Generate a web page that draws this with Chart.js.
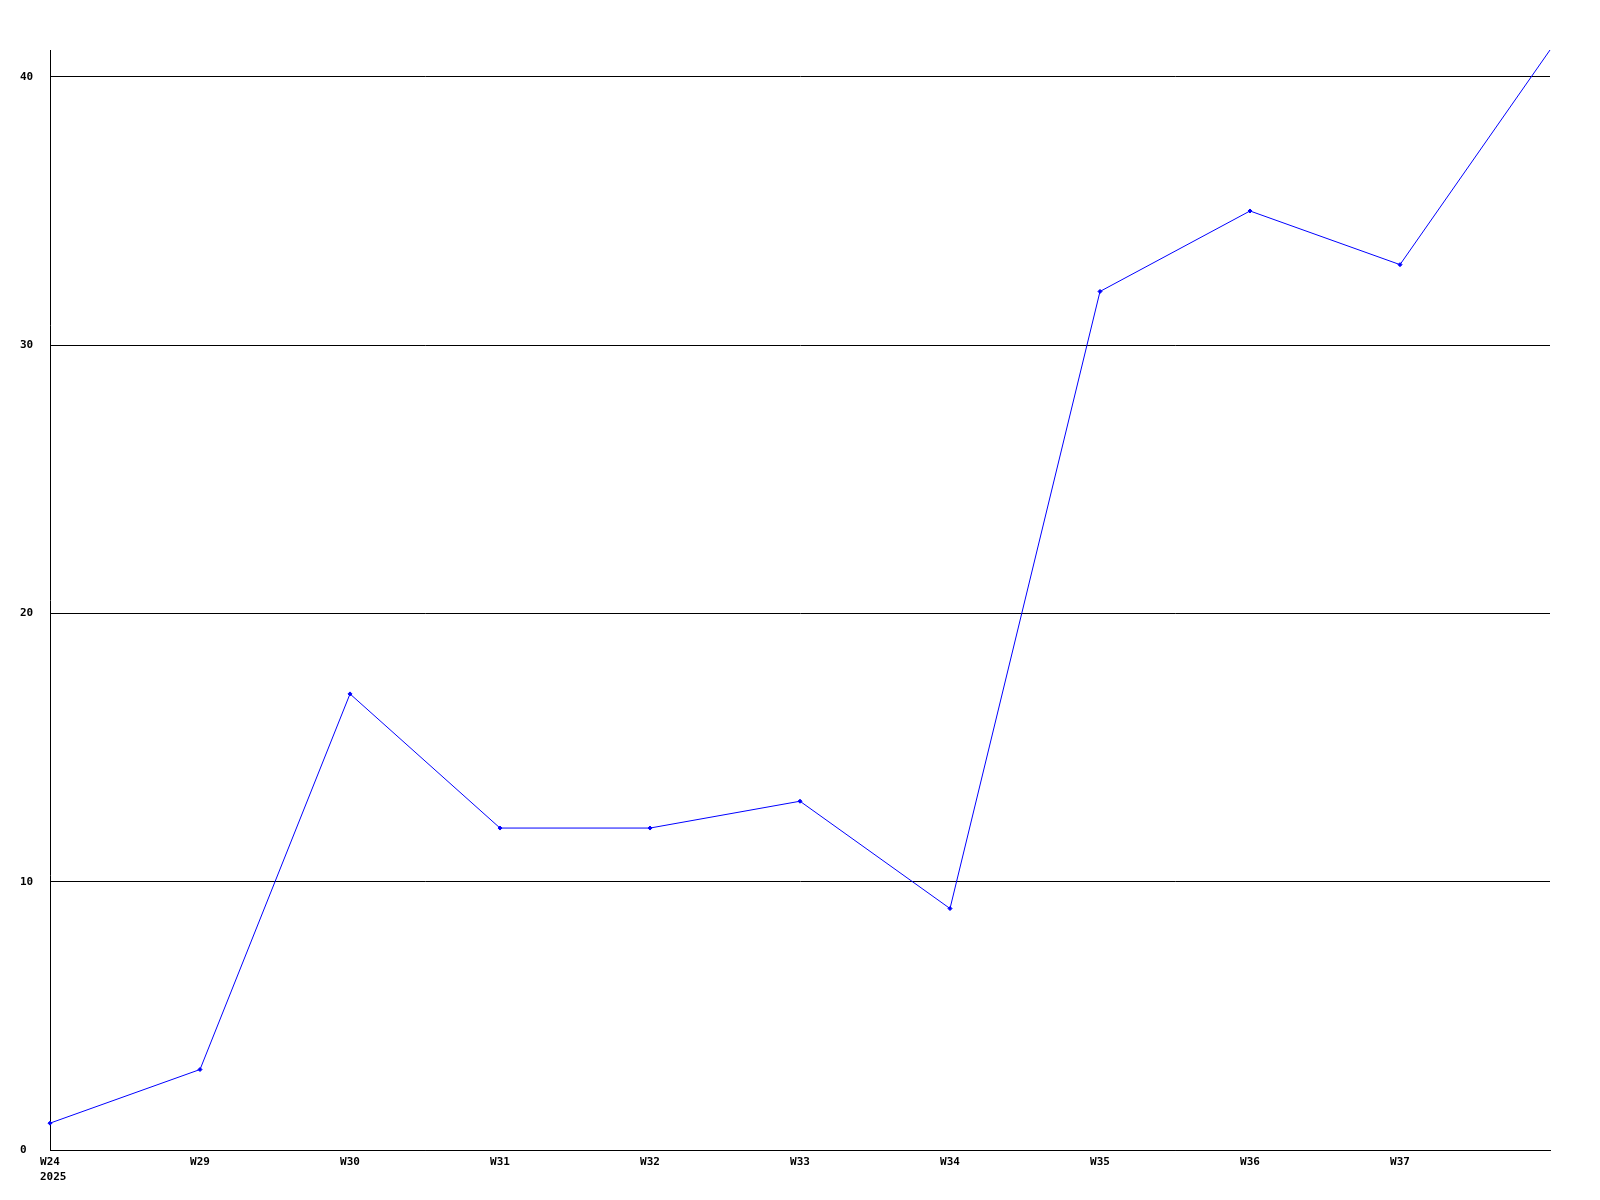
<!DOCTYPE html>
<html>
<head>
<meta charset="utf-8">
<script src="https://cdn.jsdelivr.net/npm/chart.js@4/dist/chart.umd.min.js"></script>
<style>
  html, body { margin: 0; padding: 0; background: #fff; }
  #canvas { display: block; }
</style>
</head>
<body>
<canvas id="canvas"></canvas>
<script>
// output size
let width = 1600;
let height = 1200;

// weekly values
let weeks = ['W24', 'W29', 'W30', 'W31', 'W32', 'W33', 'W34', 'W35', 'W36', 'W37', 'W38'];
let values = [1, 3, 17, 12, 12, 13, 9, 32, 35, 33, 41];
let year = '2025';
let yTicks = [0, 10, 20, 30, 40];

let font = { family: 'DejaVu Sans Mono', size: 11, weight: 'bold' };

let context = document.getElementById('canvas');
context.width = width;
context.height = height;

// year printed under the first week label, left-aligned with it
let yearLabel = {
  id: 'yearLabel',
  afterDraw: function (chart) {
    let ctx = chart.ctx;
    let x = chart.scales.x.getPixelForTick(0);
    ctx.save();
    ctx.font = 'bold 11px "DejaVu Sans Mono"';
    ctx.fillStyle = '#000';
    ctx.textAlign = 'left';
    ctx.textBaseline = 'middle';
    ctx.fillText(year, x - 10, chart.scales.x.top + 27);
    ctx.restore();
  }
};

let options = {
  type: 'line',
  data: {
    labels: weeks,
    datasets: [{
      data: values,
      borderColor: '#0000ff',
      backgroundColor: '#0000ff',
      borderWidth: 1,
      pointStyle: 'rectRot',
      // last point sits on the plot edge and has no marker
      pointRadius: function (c) { return c.dataIndex === weeks.length - 1 ? 0 : 2; },
      pointBorderWidth: 1,
      tension: 0
    }]
  },
  options: {
    animation: false,
    responsive: false,
    layout: { padding: { left: 20, top: 50, right: 50, bottom: 0 } },
    plugins: {
      legend: { display: false },
      tooltip: { enabled: false }
    },
    scales: {
      x: {
        offset: false,
        afterFit: function (scale) { scale.height = 50; },
        grid: { drawOnChartArea: false, drawTicks: false },
        border: { display: true, color: '#000', width: 1 },
        ticks: {
          color: '#000',
          font: font,
          padding: 6,
          autoSkip: false,
          maxRotation: 0,
          callback: function (val, i) {
            if (i === weeks.length - 1) return '';
            return weeks[i];
          }
        }
      },
      y: {
        min: 0,
        max: 41,
        afterFit: function (scale) { scale.width = 30; },
        grid: { color: '#000', lineWidth: 1, drawTicks: false },
        border: { display: true, color: '#000', width: 1 },
        ticks: {
          color: '#000',
          font: font,
          stepSize: 10,
          includeBounds: false,
          crossAlign: 'far',
          callback: function (v) { return yTicks.includes(v) ? String(v) : ''; }
        }
      }
    }
  },
  plugins: [yearLabel]
};

let chart = new Chart(context, options);
</script>
</body>
</html>
